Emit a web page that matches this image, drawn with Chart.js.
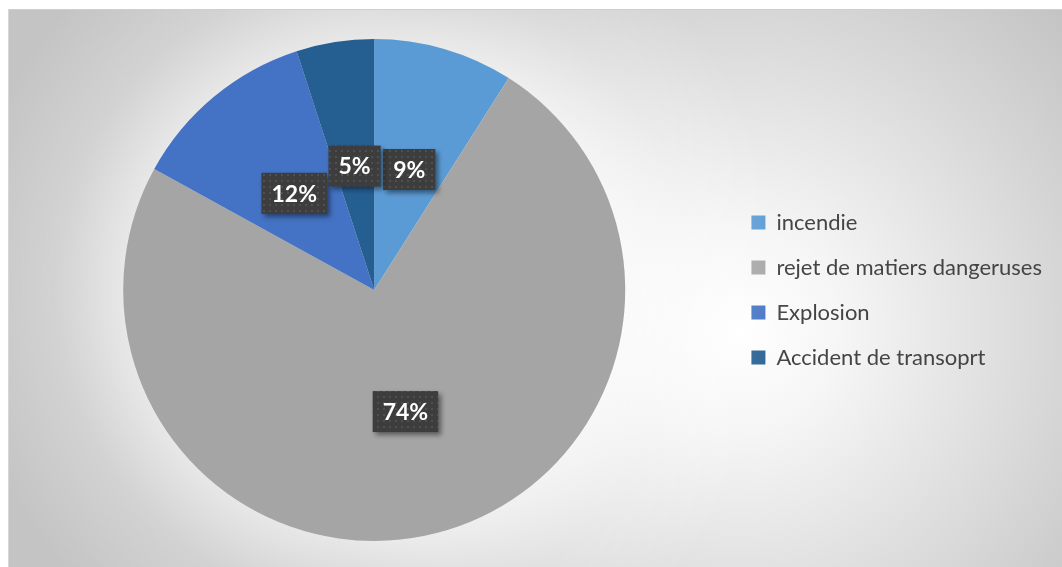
<!DOCTYPE html>
<html>
<head>
<meta charset="utf-8">
<script src="https://cdn.jsdelivr.net/npm/chart.js@4.4.1/dist/chart.umd.min.js"></script>
<style>
  html, body { margin: 0; padding: 0; background: #ffffff; overflow: hidden; }
  #frame {
    position: absolute;
    left: 8px; top: 9px;
    width: 1060px; height: 560px;
    border-top: 1px solid #cfcfcf;
    border-left: 1px solid #d6d6d6;
    background: radial-gradient(circle 450px at 730px 320px, #ffffff 0%, #f6f6f6 22%, #c4c4c4 100%);
  }
  #chart { position: absolute; left: 0; top: 0; }
</style>
</head>
<body>
<div id="frame">
  <canvas id="chart" width="1051" height="557"></canvas>
</div>
<script>
// chart data
const categories = ['incendie', 'rejet de matiers dangeruses', 'Explosion', 'Accident de transoprt'];
const percentages = [9, 74, 12, 5];
const sliceColors = ['#5B9BD5', '#A5A5A5', '#4472C4', '#255E91'];

// soft light halo around the pie
const haloPlugin = {
  id: 'halo',
  beforeDatasetsDraw(chart) {
    const arc = chart.getDatasetMeta(0).data[0];
    if (!arc) return;
    const { x, y, outerRadius } = arc;
    const ctx = chart.ctx;
    const g = ctx.createRadialGradient(x, y, outerRadius, x, y, outerRadius + 170);
    g.addColorStop(0, 'rgba(255,255,255,0.6)');
    g.addColorStop(0.4, 'rgba(255,255,255,0.25)');
    g.addColorStop(1, 'rgba(255,255,255,0)');
    ctx.save();
    ctx.fillStyle = g;
    ctx.beginPath();
    ctx.arc(x, y, outerRadius + 170, 0, Math.PI * 2);
    ctx.fill();
    ctx.restore();
  }
};

// dotted dark fill for the label boxes
function makeDotPattern(ctx) {
  const c = document.createElement('canvas');
  c.width = 6; c.height = 6;
  const p = c.getContext('2d');
  p.fillStyle = '#3d3d3d';
  p.fillRect(0, 0, 6, 6);
  p.fillStyle = '#4f4f4f';
  p.fillRect(2, 2, 2, 2);
  return ctx.createPattern(c, 'repeat');
}

// percentage labels in dark boxes
const boxLabelPlugin = {
  id: 'boxLabels',
  afterDatasetsDraw(chart) {
    const ctx = chart.ctx;
    const data = chart.data.datasets[0].data;
    const pattern = makeDotPattern(ctx);
    ctx.save();
    ctx.font = 'bold 23px Lato, "DejaVu Sans", sans-serif';
    chart.getDatasetMeta(0).data.forEach((arc, i) => {
      const pt = arc.getCenterPoint();
      const text = data[i] + '%';
      const w = ctx.measureText(text).width + 20;
      const h = 41;
      ctx.save();
      ctx.shadowColor = 'rgba(0,0,0,0.45)';
      ctx.shadowBlur = 5;
      ctx.shadowOffsetX = 3;
      ctx.shadowOffsetY = 3;
      ctx.fillStyle = pattern;
      ctx.fillRect(pt.x - w / 2, pt.y - h / 2, w, h);
      ctx.restore();
      ctx.fillStyle = '#ffffff';
      ctx.textAlign = 'center';
      ctx.textBaseline = 'middle';
      ctx.fillText(text, pt.x, pt.y + 1);
    });
    ctx.restore();
  }
};

new Chart(document.getElementById('chart'), {
  type: 'pie',
  data: {
    labels: categories,
    datasets: [{
      data: percentages,
      backgroundColor: sliceColors,
      borderWidth: 0
    }]
  },
  options: {
    responsive: false,
    animation: false,
    layout: { padding: { left: 11, right: 8, top: 29, bottom: 26 } },
    plugins: {
      tooltip: { enabled: false },
      legend: {
        position: 'right',
        align: 'center',
        labels: {
          boxWidth: 14,
          boxHeight: 14,
          padding: 23,
          color: '#444444',
          font: { family: 'Lato, "DejaVu Sans", sans-serif', size: 22 }
        }
      }
    }
  },
  plugins: [haloPlugin, boxLabelPlugin]
});
</script>
</body>
</html>
